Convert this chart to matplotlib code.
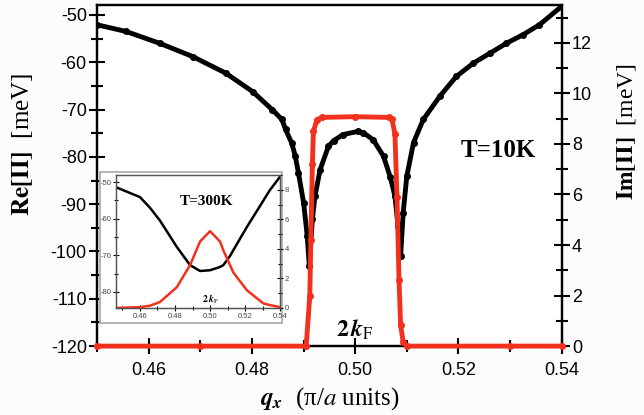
import matplotlib
matplotlib.use("Agg")
import matplotlib.pyplot as plt
from matplotlib.patches import Rectangle
from matplotlib.ticker import MultipleLocator

plt.rcParams['mathtext.fontset'] = 'stix'
plt.rcParams['font.family'] = ['Liberation Sans', 'DejaVu Sans']
plt.rcParams['axes.unicode_minus'] = False

# --- main panel, T = 10 K ---
q_re = [0.4500, 0.4556, 0.4621, 0.4685, 0.4749, 0.4801, 0.4839, 0.4858, 0.4865,
        0.4877, 0.4884, 0.4890, 0.4900, 0.4907, 0.4911, 0.4917, 0.4922, 0.4932,
        0.4948, 0.4958, 0.4976, 0.5006, 0.5016, 0.5035, 0.5055, 0.5068, 0.5077,
        0.5083, 0.5088, 0.5093, 0.5100, 0.5113, 0.5132, 0.5164, 0.5196, 0.5229,
        0.5261, 0.5293, 0.5325, 0.5357, 0.5400]
re_10k = [-52.1, -53.5, -56.0, -58.8, -62.3, -66.2, -70.0, -72.1, -74.2,
          -77.1, -79.9, -83.4, -89.7, -96.7, -103.0, -93.2, -88.3, -82.7,
          -77.8, -76.6, -75.3, -74.6, -74.9, -76.4, -79.9, -84.3, -88.3,
          -94.6, -101.0, -91.8, -84.1, -77.0, -72.1, -67.2, -63.0, -60.2,
          -58.1, -56.0, -54.2, -52.1, -48.2]

q_im = [0.4500, 0.4700, 0.4905, 0.4912, 0.4914, 0.4917, 0.4919, 0.4926, 0.4935,
        0.5000, 0.5065, 0.5071, 0.5077, 0.5081, 0.5085, 0.5088, 0.5093, 0.5100,
        0.5300, 0.5400]
im_10k = [0.0, 0.0, 0.0, 2.0, 4.2, 7.2, 8.5, 8.96, 9.05,
          9.08, 9.05, 9.0, 8.4, 5.9, 2.6, 0.83, 0.17, 0.0,
          0.0, 0.0]

# --- inset, T = 300 K ---
q_in = [0.4463, 0.4600, 0.4657, 0.4714, 0.4810, 0.4886, 0.4943, 0.5000, 0.5057,
        0.5076, 0.5114, 0.5133, 0.5210, 0.5305, 0.5340, 0.5400]
re_300k = [-51.4, -54.1, -57.0, -60.5, -67.7, -72.7, -74.3, -74.1, -73.2,
           -72.7, -70.2, -68.6, -62.3, -55.0, -52.3, -48.5]
im_300k = [0.0, 0.05, 0.15, 0.4, 1.4, 2.9, 4.5, 5.2, 4.5,
           3.9, 2.9, 2.4, 1.2, 0.3, 0.2, 0.05]

red = '#f2301e'
serif = 'Liberation Serif'

fig = plt.figure(figsize=(6.44, 4.15), dpi=100)
fig.patch.set_facecolor('#fcfcfd')
ax = fig.add_axes([0.151, 0.166, 0.721, 0.822])
ax2 = ax.twinx()

ax.plot(q_re, re_10k, '-o', color='black', lw=3.5, ms=4, zorder=3)
ax2.plot(q_im, im_10k, '-o', color=red, lw=3.5, ms=4, zorder=4, clip_on=False)

ax.set_xlim(0.45, 0.54)
ax.set_ylim(-120, -47.9)
ax2.set_ylim(0, 13.5)
ax.set_xticks([0.46, 0.48, 0.50, 0.52, 0.54])
ax.set_xticklabels(['0.46', '0.48', '0.50', '0.52', '0.54'])
ax.xaxis.set_minor_locator(MultipleLocator(0.01))
ax.yaxis.set_major_locator(MultipleLocator(10))
ax.yaxis.set_minor_locator(MultipleLocator(5))
ax2.yaxis.set_major_locator(MultipleLocator(2))
ax2.yaxis.set_minor_locator(MultipleLocator(1))

for a in (ax, ax2):
    a.tick_params(which='major', direction='inout', length=11, width=1.5,
                  labelsize=13, pad=2)
    a.tick_params(which='minor', direction='inout', length=8, width=1.5)
    for s in a.spines.values():
        s.set_linewidth(1.6)
ax.tick_params(axis='x', pad=6)
ax.tick_params(axis='y', right=False)

ax.set_ylabel(r'$\mathbf{Re[\Pi]}$  [meV]', fontsize=18, fontfamily=serif)
ax.yaxis.set_label_coords(-0.135, 0.59)
ax2.set_ylabel(r'$\mathbf{Im[\Pi]}$  [meV]', fontsize=17, fontfamily=serif,
               rotation=90)
ax2.yaxis.set_label_coords(1.115, 0.63)
ax.set_xlabel(r'$\mathbfit{q}_{\mathbfit{x}}$  (π/$a$ units)', fontsize=18,
              fontfamily=serif)
ax.xaxis.set_label_coords(0.5, -0.115)

ax2.text(0.5277, 7.75, 'T=10K', fontsize=18, fontweight='bold', fontfamily=serif,
         ha='center', va='center')
ax2.text(0.500, 0.15, r'$\mathbf{2}\,\mathbfit{k}_{\mathrm{F}}$', fontsize=17,
         ha='center', va='bottom')

# inset frame and axes
fig.patches.append(Rectangle((0.155, 0.222), 0.283, 0.364, transform=fig.transFigure,
                             facecolor='white', edgecolor='#a8a8a8', lw=1.2, zorder=5))
ins = fig.add_axes([0.180, 0.258, 0.255, 0.320], zorder=6)
ins2 = ins.twinx()
ins.plot(q_in, re_300k, color='black', lw=1.8)
ins2.plot(q_in, im_300k, color=red, lw=1.8)
ins.set_xlim(0.4463, 0.54)
ins.set_ylim(-84.4, -48.1)
ins2.set_ylim(0, 9)
ins.set_xticks([0.46, 0.48, 0.50, 0.52, 0.54])
ins.set_xticklabels(['0.46', '0.48', '0.50', '0.52', '0.54'])
ins.set_yticks([-50, -60, -70, -80])
ins.xaxis.set_minor_locator(MultipleLocator(0.01))
ins.yaxis.set_minor_locator(MultipleLocator(5))
ins2.yaxis.set_major_locator(MultipleLocator(2))
ins2.yaxis.set_minor_locator(MultipleLocator(1))
for a in (ins, ins2):
    a.tick_params(which='major', direction='inout', length=4, width=0.8,
                  labelsize=5.5, labelcolor='#444444', pad=1.5)
    a.tick_params(which='minor', direction='inout', length=3, width=0.8)
    for s in a.spines.values():
        s.set_linewidth(0.9)
        s.set_color('#555555')
ins.tick_params(axis='y', right=False)
ins.text(0.553, 0.80, 'T=300K', transform=ins.transAxes, fontsize=11,
         fontweight='bold', fontfamily=serif, ha='center', va='center')
ins2.text(0.500, 0.15, r'$\mathbf{2}\,\mathbfit{k}_{\mathrm{F}}$', fontsize=7,
          ha='center', va='bottom')

fig.savefig('out.png', dpi=100, facecolor=fig.get_facecolor())
